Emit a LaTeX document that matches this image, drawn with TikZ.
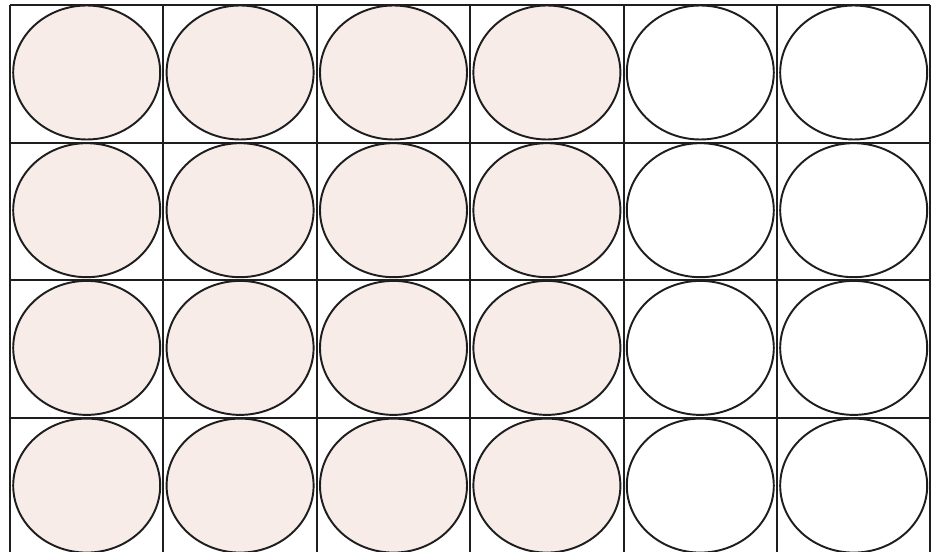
\documentclass[tikz,border=0pt]{standalone}
\usepackage{xcolor}
\usepackage{tikz}
\usetikzlibrary{shapes.geometric}
\definecolor{wellfill}{RGB}{247,236,232}
\definecolor{gridline}{RGB}{30,30,30}

\begin{document}
\begin{tikzpicture}[
    gridrule/.style={draw=gridline, line width=0.6pt},
    well/.style={ellipse, draw=gridline, line width=0.55pt, inner sep=0pt,
      minimum width=1.47cm, minimum height=1.34cm},
    fullwell/.style={well, fill=wellfill},
    emptywell/.style={well, fill=white}]
  \useasboundingbox (0,0) rectangle (9.40,-5.52);
  % grid of the plate
  \foreach \i in {0,...,6}
    \draw[gridrule] ({0.10+1.534*\i},-0.05) -- ({0.10+1.534*\i},-5.558);
  \foreach \j in {0,...,4}
    \draw[gridrule] (0.10,{-0.05-1.377*\j}) -- (9.304,{-0.05-1.377*\j});
  % wells, first four columns filled
  \foreach \i in {0,...,5}
    \foreach \j in {0,...,3}{
      \ifnum\i<4
        \node[fullwell] (w\i\j) at ({0.867+1.534*\i},{-0.725-1.377*\j}) {};
      \else
        \node[emptywell] (w\i\j) at ({0.867+1.534*\i},{-0.725-1.377*\j}) {};
      \fi
    }
\end{tikzpicture}
\end{document}
